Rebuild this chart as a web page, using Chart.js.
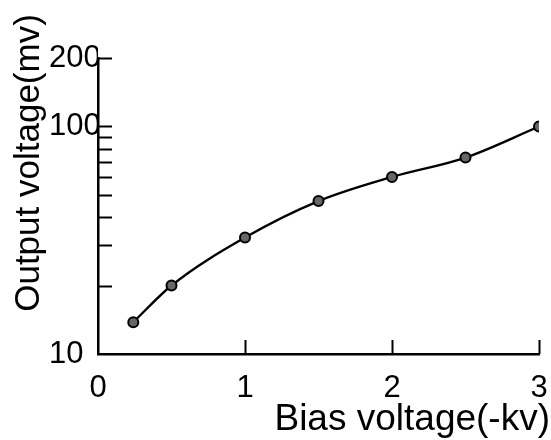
<!DOCTYPE html>
<html>
<head>
<meta charset="utf-8">
<script src="https://cdn.jsdelivr.net/npm/chart.js@4/dist/chart.umd.min.js"></script>
<style>
  html, body { margin: 0; padding: 0; background: #fff; }
  #wrap { width: 551px; height: 440px; position: relative; }
</style>
</head>
<body>
<div id="wrap"><canvas id="chart"></canvas></div>
<script>
// values
const biasVoltage = [0.24, 0.5, 1.0, 1.5, 2.0, 2.5, 3.0];
const outputVoltage = [13.8, 20, 32.5, 47, 60, 73, 100];
const xTicks = [0, 1, 2, 3];
const yTicks = [10, 20, 30, 40, 50, 60, 70, 80, 90, 100, 200];
const yLabelled = [10, 100, 200];
const xTitle = 'Bias voltage(-kv)';
const yTitle = 'Output voltage(mv)';

const FONT = '"Liberation Sans", Arial, sans-serif';

// inward tick marks + axis titles
const axisDecor = {
  id: 'axisDecor',
  afterDraw(chart) {
    const { ctx, chartArea, scales } = chart;
    ctx.save();
    ctx.strokeStyle = '#000';
    ctx.lineWidth = 2;
    yTicks.slice(1).forEach(v => {
      const py = Math.round(scales.y.getPixelForValue(v)) + 0.5;
      ctx.beginPath();
      ctx.moveTo(chartArea.left, py);
      ctx.lineTo(chartArea.left + 14, py);
      ctx.stroke();
    });
    xTicks.slice(1).forEach(v => {
      const px = Math.round(scales.x.getPixelForValue(v)) + 0.5;
      ctx.beginPath();
      ctx.moveTo(px, chartArea.bottom);
      ctx.lineTo(px, chartArea.bottom - 14);
      ctx.stroke();
    });

    ctx.fillStyle = '#000';
    ctx.font = '37px ' + FONT;
    ctx.textAlign = 'right';
    ctx.textBaseline = 'alphabetic';
    ctx.fillText(xTitle, chart.width - 1, chart.height - 10);

    ctx.font = '35px ' + FONT;
    ctx.translate(29, 163);
    ctx.rotate(-Math.PI / 2);
    ctx.textAlign = 'center';
    ctx.textBaseline = 'middle';
    ctx.fillText(yTitle, 0, 0);
    ctx.restore();
  }
};

new Chart(document.getElementById('chart'), {
  type: 'scatter',
  data: {
    datasets: [{
      data: biasVoltage.map((x, i) => ({ x, y: outputVoltage[i] })),
      showLine: true,
      borderColor: '#000',
      borderWidth: 2.4,
      cubicInterpolationMode: 'monotone',
      pointRadius: 5,
      pointBorderWidth: 2,
      pointBorderColor: '#000',
      pointBackgroundColor: '#666'
    }]
  },
  options: {
    responsive: true,
    maintainAspectRatio: false,
    animation: false,
    layout: { padding: { left: 49, top: 58, right: 0, bottom: 0 } },
    plugins: { legend: { display: false }, tooltip: { enabled: false } },
    scales: {
      x: {
        type: 'linear',
        min: 0,
        max: 3,
        afterBuildTicks: s => { s.ticks = xTicks.map(value => ({ value })); },
        afterFit: s => { s.height = 86; s.paddingRight = 12; },
        grid: { display: false, drawTicks: false },
        border: { display: true, color: '#000', width: 2.5 },
        ticks: { color: '#000', padding: 16, font: { family: FONT, size: 31 } }
      },
      y: {
        type: 'logarithmic',
        min: 10,
        max: 200,
        afterBuildTicks: s => { s.ticks = yTicks.map(value => ({ value })); },
        afterFit: s => { s.width = 49; },
        grid: { display: false, drawTicks: false },
        border: { display: true, color: '#000', width: 2.5 },
        ticks: {
          color: '#000',
          crossAlign: 'far',
          autoSkip: false,
          font: { family: FONT, size: 31 },
          callback: v => (yLabelled.includes(v) ? String(v) : '')
        }
      }
    }
  },
  plugins: [axisDecor]
});
</script>
</body>
</html>
